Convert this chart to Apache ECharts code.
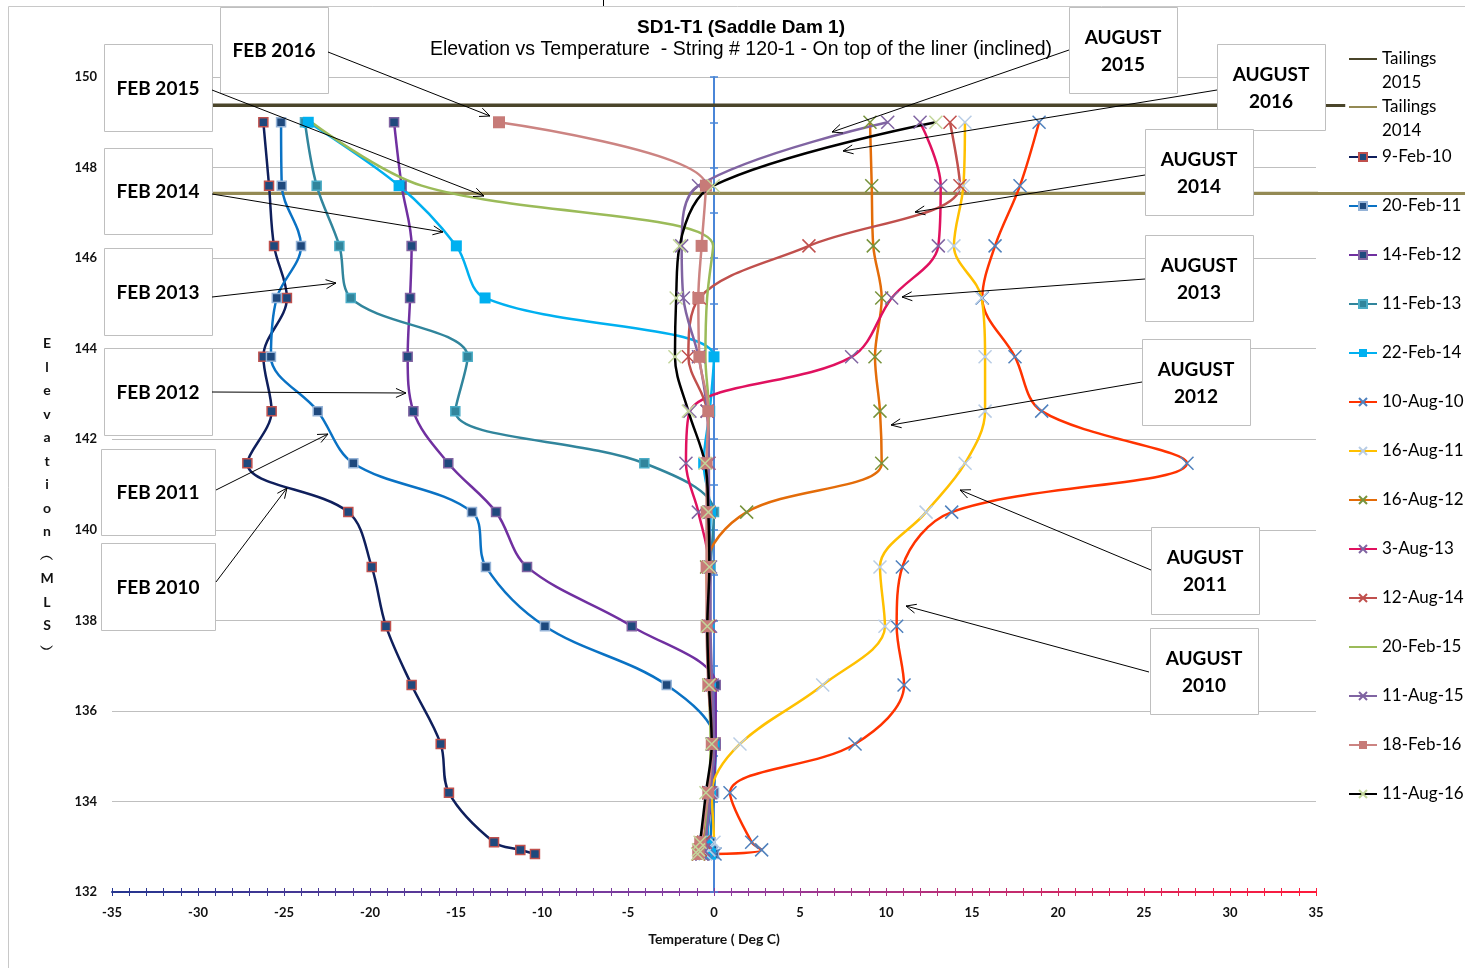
<!DOCTYPE html>
<html><head><meta charset="utf-8">
<script src="https://cdn.jsdelivr.net/npm/echarts@6.0.0/dist/echarts.min.js"></script>
<style>html,body{margin:0;padding:0;background:#fff}#c{width:1465px;height:968px}</style>
</head><body><div id="c"></div>
<script>
// ---- data ----
const elevations = [149.0,147.6,146.27,145.12,143.82,142.62,141.47,140.39,139.18,137.87,136.57,135.27,134.19,133.1,132.93,132.84];
const feb10 = [-26.2,-25.87,-25.58,-24.83,-26.2,-25.72,-27.13,-21.26,-19.9,-19.07,-17.58,-15.89,-15.41,-12.79,-11.26,-10.41];
const feb11 = [-25.17,-25.13,-24.01,-25.42,-25.76,-23.04,-20.97,-14.07,-13.26,-9.83,-2.75,0.1,0.0,-0.2,-0.1,0.0];
const feb12 = [-18.6,-18.16,-17.58,-17.67,-17.81,-17.48,-15.45,-12.67,-10.87,-4.78,0.1,0.1,-0.1,-0.4,-0.3,-0.2];
const feb13 = [-23.78,-23.1,-21.78,-21.12,-14.32,-15.04,-4.05,0.0,-0.2,-0.3,-0.2,0.0,-0.2,-0.4,-0.3,-0.2];
const feb14 = [-23.59,-18.31,-14.98,-13.31,0.0,-0.25,-0.6,-0.2,-0.3,-0.3,-0.2,0.0,-0.2,-0.4,-0.3,-0.2];
const aug10 = [18.9,17.79,16.34,15.6,17.5,19.05,27.5,13.82,10.95,10.62,11.05,8.2,0.93,2.19,2.77,0.06];
const aug11 = [14.59,14.5,13.95,15.56,15.76,15.76,14.6,12.33,9.65,9.94,6.32,1.51,-0.13,0.0,-0.3,-0.5];
const aug12 = [9.07,9.17,9.26,9.75,9.36,9.65,9.75,1.9,-0.43,-0.35,-0.3,-0.1,-0.3,-0.6,-0.8,-0.9];
const aug13 = [11.98,13.18,13.04,10.33,8.0,-1.4,-1.63,-0.91,-0.3,-0.3,-0.2,-0.1,-0.3,-0.5,-0.6,-0.7];
const aug14 = [13.72,14.3,5.52,-0.85,-1.49,-0.4,-0.3,-0.3,-0.3,-0.3,-0.2,0.0,-0.3,-0.6,-0.8,-0.9];
const feb15 = [-23.4,-17.0,-0.05,-0.4,-0.5,-0.3,-0.4,-0.4,-0.4,-0.4,-0.3,-0.2,-0.3,-0.5,-0.4,-0.3];
const aug15 = [10.1,-0.9,-1.88,-1.78,-0.9,-0.4,-0.3,-0.3,-0.2,-0.2,-0.1,0.0,-0.2,-0.5,-0.6,-0.7];
const feb16 = [-12.5,-0.47,-0.72,-0.91,-0.85,-0.33,-0.43,-0.43,-0.43,-0.43,-0.33,-0.13,-0.33,-0.8,-0.91,-0.9];
const aug16 = [12.9,-0.04,-2.0,-2.2,-2.27,-1.49,-0.52,-0.33,-0.27,-0.39,-0.29,-0.13,-0.47,-0.81,-0.9,-0.95];
const tailings2015Temps = [-35, 36.7];
const tailings2015 = [149.38, 149.38];
const tailings2014Temps = [-35, 44];
const tailings2014 = [147.43, 147.43];
const xTickLabels = [-35,-30,-25,-20,-15,-10,-5,0,5,10,15,20,25,30,35];
const yTickLabels = [132,134,136,138,140,142,144,146,148,150];

// ---- build ----
const XSYM = 'path://M0,0L10,10M10,0L0,10';
const CLEAR = 'rgba(0,0,0,0)';
function pts(t){ return t.map((v,i)=>[v, elevations[i]]); }
function sq(name, t, line, fill, border, size){
  return {name, type:'line', data:pts(t), smooth:0.35, symbol:'rect', symbolSize:size,
    lineStyle:{color:line, width:2.5}, itemStyle:{color:fill, borderColor:border||fill, borderWidth:border?1.5:0}};
}
function xs(name, t, line, mark){
  return {name, type:'line', data:pts(t), smooth:0.35, symbol:XSYM, symbolSize:13,
    lineStyle:{color:line, width:2.5}, itemStyle:{color:CLEAR, borderColor:mark, borderWidth:1.5}};
}
function flat(name, xsArr, e, color){
  return {name, type:'line', data:xsArr.map((v,i)=>[v,e[i]]), symbol:'none', clip:false,
    lineStyle:{color, width:3}, itemStyle:{color:CLEAR, borderWidth:0}};
}
function flatExt(name, xsArr, e, color){
  return {name:name+' ', type:'lines', coordinateSystem:'cartesian2d', clip:false, silent:true,
    data:[{coords:xsArr.map((v,i)=>[v,e[i]])}], lineStyle:{color, width:3, opacity:1}};
}
const series = [
  flat('Tailings 2015', tailings2015Temps, tailings2015, '#4A452A'),
  flat('Tailings 2014', tailings2014Temps, tailings2014, '#948A54'),
  flatExt('Tailings 2015', tailings2015Temps, tailings2015, '#4A452A'),
  flatExt('Tailings 2014', tailings2014Temps, tailings2014, '#948A54'),
  sq('9-Feb-10', feb10, '#0F1F5C', '#1F497D', '#C0504D', 9),
  sq('20-Feb-11', feb11, '#0A72C4', '#1F497D', '#95B3D7', 9),
  sq('14-Feb-12', feb12, '#7030A0', '#1F497D', '#8064A2', 9),
  sq('11-Feb-13', feb13, '#31859C', '#31859C', '#4BACC6', 9),
  sq('22-Feb-14', feb14, '#00B0F0', '#00B0F0', null, 11),
  xs('10-Aug-10', aug10, '#FF3300', '#4F81BD'),
  xs('16-Aug-11', aug11, '#FFC000', '#B9CDE5'),
  xs('16-Aug-12', aug12, '#E36C09', '#77933C'),
  xs('3-Aug-13', aug13, '#E0115F', '#8064A2'),
  xs('12-Aug-14', aug14, '#C0504D', '#C0504D'),
  {name:'20-Feb-15', type:'line', data:pts(feb15), smooth:0.35, symbol:'none', lineStyle:{color:'#9BBB59', width:2.5}, itemStyle:{color:CLEAR, borderWidth:0}},
  xs('11-Aug-15', aug15, '#8064A2', '#8064A2'),
  sq('18-Feb-16', feb16, '#CC8482', '#C77B78', null, 12),
  xs('11-Aug-16', aug16, '#000000', '#C3D69B')
];

const chart = echarts.init(document.getElementById('c'), null, {renderer:'canvas'});
const axisGrad = new echarts.graphic.LinearGradient(112,0,1316,0,[
  {offset:0,color:'#25358F'},{offset:0.5,color:'#8A3CA0'},{offset:1,color:'#FF1A3A'}], true);
const tickFont = {fontFamily:'Lato', fontWeight:'bold', fontSize:13, color:'#111'};

const boxes = [
 {t:'FEB 2015', x:104,y:44,w:108,h:87},
 {t:'FEB 2016', x:220,y:7,w:108,h:86},
 {t:'FEB 2014', x:104,y:148,w:108,h:86},
 {t:'FEB 2013', x:104,y:248,w:108,h:87},
 {t:'FEB 2012', x:104,y:348,w:108,h:87},
 {t:'FEB 2011', x:101,y:449,w:114,h:86},
 {t:'FEB 2010', x:101,y:543,w:114,h:87},
 {t:'AUGUST\n2015', x:1069,y:7,w:108,h:86},
 {t:'AUGUST\n2016', x:1217,y:44,w:108,h:86},
 {t:'AUGUST\n2014', x:1145,y:129,w:108,h:86},
 {t:'AUGUST\n2013', x:1145,y:235,w:108,h:86},
 {t:'AUGUST\n2012', x:1142,y:339,w:108,h:86},
 {t:'AUGUST\n2011', x:1151,y:527,w:108,h:87},
 {t:'AUGUST\n2010', x:1150,y:628,w:108,h:86}
];
const arrows = [
 [328,52,490,116],[212,90,484,196],[212,194,443,232],[212,297,336,283],[212,392,406,393],
 [216,490,328,434],[216,582,287,488],
 [1069,50,832,132],[1217,90,843,151],[1145,175,915,212],[1145,279,902,297],[1142,382,891,425],
 [1151,570,960,490],[1149,672,906,606]
];
const graphics = [];
graphics.push({type:'rect', shape:{x:8.5,y:6.5,width:1480,height:980}, style:{fill:null, stroke:'#C8C8C8', lineWidth:1}, z:1, silent:true});
graphics.push({type:'line', shape:{x1:603.5,y1:0,x2:603.5,y2:6}, style:{stroke:'#000', lineWidth:1}, z:1, silent:true});
boxes.forEach(b=>{
  graphics.push({type:'rect', shape:{x:b.x+0.5,y:b.y+0.5,width:b.w,height:b.h}, style:{fill:'#fff', stroke:'#BFBFBF', lineWidth:1}, z:50, silent:true});
  graphics.push({type:'text', x:b.x+b.w/2, y:b.y+b.h/2+1, style:{text:b.t, align:'center', verticalAlign:'middle', font:'bold 19px Lato', lineHeight:27, fill:'#000'}, z:51, silent:true});
});
arrows.forEach(a=>{
  const [x1,y1,x2,y2]=a, ang=Math.atan2(y2-y1,x2-x1), L=11, s=0.42;
  graphics.push({type:'line', shape:{x1,y1,x2,y2}, style:{stroke:'#000', lineWidth:1}, z:52, silent:true});
  graphics.push({type:'polyline', shape:{points:[[x2-L*Math.cos(ang-s), y2-L*Math.sin(ang-s)],[x2,y2],[x2-L*Math.cos(ang+s), y2-L*Math.sin(ang+s)]]}, style:{stroke:'#000', fill:null, lineWidth:1}, z:52, silent:true});
});

const legendNames = series.filter(s=>s.type==='line').map(s=>s.name);
chart.setOption({
  animation:false,
  backgroundColor:'#fff',
  title:[
    {text:'SD1-T1 (Saddle Dam 1)', left:736, top:12, textAlign:'center',
     textStyle:{fontFamily:'Liberation Sans', fontWeight:'bold', fontSize:19, lineHeight:22, color:'#000'}},
    {text:'Elevation vs Temperature  - String # 120-1 - On top of the liner (inclined)', left:736, top:34, textAlign:'center',
     textStyle:{fontFamily:'Liberation Sans', fontWeight:'normal', fontSize:19.5, lineHeight:22, color:'#000'}}
  ],
  grid:{left:112, right:149, top:77, bottom:76, outerBoundsMode:'none'},
  legend:[
    {data:legendNames.slice(0,2), orient:'vertical', left:1343, top:18, itemWidth:28, itemHeight:10, itemGap:-24,
     formatter:n=>' \n'+n.replace(' ','\n'), selectedMode:false,
     textStyle:{fontFamily:'Lato', fontSize:17, lineHeight:24, color:'#000'}},
    {data:legendNames.slice(2), orient:'vertical', left:1343, top:143, itemWidth:28, itemHeight:10, itemGap:31, selectedMode:false,
     textStyle:{fontFamily:'Lato', fontSize:17, lineHeight:18, color:'#000'}}
  ],
  xAxis:[
    {type:'value', min:xTickLabels[0], max:xTickLabels[xTickLabels.length-1], interval:xTickLabels[1]-xTickLabels[0],
     name:'Temperature ( Deg C)', nameLocation:'middle', nameGap:40,
     nameTextStyle:{fontFamily:'Lato', fontWeight:'bold', fontSize:14, color:'#111'},
     axisLine:{onZero:false, lineStyle:{color:axisGrad, width:2}},
     axisTick:{show:true, length:4, lineStyle:{color:axisGrad, width:1}},
     minorTick:{show:true, splitNumber:5, length:4, lineStyle:{color:axisGrad, width:1}},
     axisLabel:Object.assign({margin:14}, tickFont),
     splitLine:{show:false}},
    {type:'value', min:xTickLabels[0], max:xTickLabels[xTickLabels.length-1], interval:xTickLabels[1]-xTickLabels[0],
     position:'bottom', axisLine:{show:false, onZero:false},
     axisTick:{show:true, inside:true, length:4, lineStyle:{color:axisGrad, width:1}},
     minorTick:{show:true, splitNumber:5, length:4, lineStyle:{color:axisGrad, width:1}},
     axisLabel:{show:false}, splitLine:{show:false}}
  ],
  yAxis:[
    {type:'value', min:yTickLabels[0], max:yTickLabels[yTickLabels.length-1], interval:yTickLabels[1]-yTickLabels[0],
     position:'left',
     name:' \nE\nl\ne\nv\na\nt\ni\no\nn\n︵\nM\nL\nS\n︶', nameLocation:'middle', nameGap:65, nameRotate:0,
     nameTextStyle:{fontFamily:'Lato', fontWeight:'bold', fontSize:14, lineHeight:23.5, align:'center', color:'#111'},
     axisLine:{show:false, onZero:false}, axisTick:{show:false},
     axisLabel:Object.assign({margin:15}, tickFont),
     splitLine:{show:true, lineStyle:{color:'#BFBFBF', width:1}}},
    {type:'value', min:yTickLabels[0], max:yTickLabels[yTickLabels.length-1], interval:1, position:'left',
     axisLine:{show:true, onZero:true, onZeroAxisIndex:0, lineStyle:{color:'#4A86D8', width:2}},
     axisTick:{show:true, length:4, lineStyle:{color:'#4A86D8', width:1.5}},
     axisLabel:{show:false}, splitLine:{show:false}},
    {type:'value', min:yTickLabels[0], max:yTickLabels[yTickLabels.length-1], interval:1, position:'left',
     axisLine:{show:false, onZero:true, onZeroAxisIndex:0},
     axisTick:{show:true, inside:true, length:4, lineStyle:{color:'#4A86D8', width:1.5}},
     axisLabel:{show:false}, splitLine:{show:false}}
  ],
  series:series,
  graphic:graphics
});
</script></body></html>
